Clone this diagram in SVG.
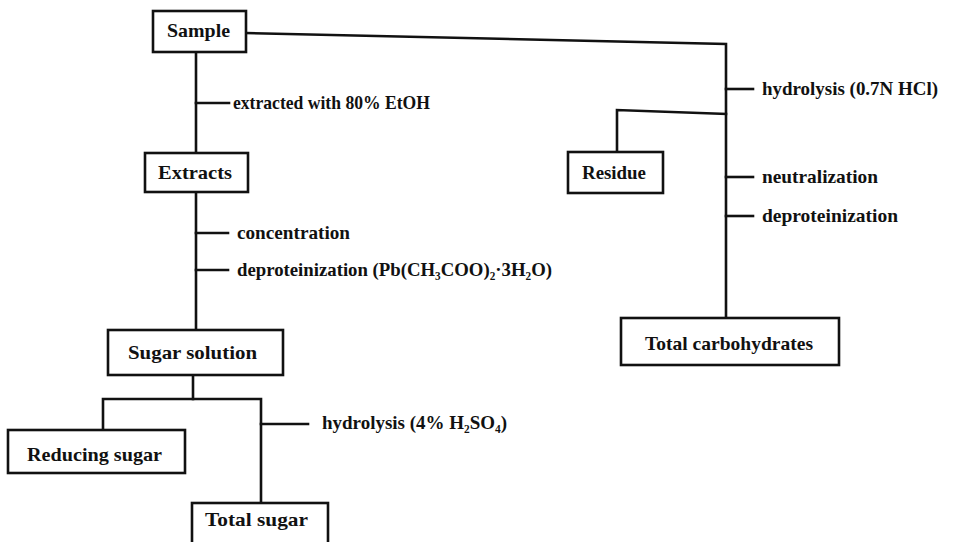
<svg xmlns="http://www.w3.org/2000/svg" width="956" height="542" viewBox="0 0 956 542">
<style>
.box{fill:#fff;stroke:#111;stroke-width:2.6}
.ln{fill:none;stroke:#111;stroke-width:2.6;stroke-linejoin:miter;stroke-linecap:square}
text{font-family:"Liberation Serif","Times New Roman",serif;font-weight:bold;font-size:19px;fill:#111}
</style>
<rect width="956" height="542" fill="#fff"/>
<g id="connectors">
<polyline class="ln" points="246,33 726,44 726,318"/>
<line class="ln" x1="196" y1="52" x2="196" y2="153"/>
<line class="ln" x1="196" y1="103" x2="229" y2="103"/>
<line class="ln" x1="196" y1="192" x2="196" y2="330"/>
<line class="ln" x1="196" y1="233" x2="228" y2="233"/>
<line class="ln" x1="196" y1="270" x2="228" y2="270"/>
<line class="ln" x1="193" y1="375" x2="193" y2="399"/>
<polyline class="ln" points="103,430 103,399 261,399 261,503"/>
<line class="ln" x1="261" y1="424" x2="308" y2="424"/>
<line class="ln" x1="726" y1="89" x2="753" y2="89"/>
<polyline class="ln" points="617,152 617,110 726,114"/>
<line class="ln" x1="726" y1="177" x2="753" y2="177"/>
<line class="ln" x1="726" y1="216" x2="753" y2="216"/>
</g>
<g id="labels">
<text x="233" y="109" textLength="197" lengthAdjust="spacingAndGlyphs">extracted with 80% EtOH</text>
<text x="237" y="239" textLength="113" lengthAdjust="spacingAndGlyphs">concentration</text>
<text x="237" y="276" textLength="315" lengthAdjust="spacingAndGlyphs">deproteinization (Pb(CH₃COO)₂·3H₂O)</text>
<text x="322" y="429" textLength="185" lengthAdjust="spacingAndGlyphs">hydrolysis (4% H₂SO₄)</text>
<text x="762" y="95" textLength="176" lengthAdjust="spacingAndGlyphs">hydrolysis (0.7N HCl)</text>
<text x="762" y="183" textLength="116" lengthAdjust="spacingAndGlyphs">neutralization</text>
<text x="762" y="222" textLength="136" lengthAdjust="spacingAndGlyphs">deproteinization</text>
</g>
<g id="sample">
<rect class="box" x="153" y="11" width="93" height="41"/>
<text x="167" y="37" textLength="63" lengthAdjust="spacingAndGlyphs">Sample</text>
</g>
<g id="extracts">
<rect class="box" x="145" y="153" width="103" height="39"/>
<text x="158" y="179" textLength="74" lengthAdjust="spacingAndGlyphs">Extracts</text>
</g>
<g id="sugar-solution">
<rect class="box" x="108" y="330" width="175" height="45"/>
<text x="128" y="359" textLength="129" lengthAdjust="spacingAndGlyphs">Sugar solution</text>
</g>
<g id="reducing-sugar">
<rect class="box" x="8" y="430" width="177" height="43"/>
<text x="27" y="461" textLength="135" lengthAdjust="spacingAndGlyphs">Reducing sugar</text>
</g>
<g id="total-sugar">
<rect class="box" x="192" y="503" width="136" height="50"/>
<text x="205" y="526" textLength="103" lengthAdjust="spacingAndGlyphs">Total sugar</text>
</g>
<g id="residue">
<rect class="box" x="568" y="152" width="95" height="41"/>
<text x="582" y="179" textLength="64" lengthAdjust="spacingAndGlyphs">Residue</text>
</g>
<g id="total-carbohydrates">
<rect class="box" x="621" y="318" width="218" height="47"/>
<text x="645" y="350" textLength="168" lengthAdjust="spacingAndGlyphs">Total carbohydrates</text>
</g>
</svg>
